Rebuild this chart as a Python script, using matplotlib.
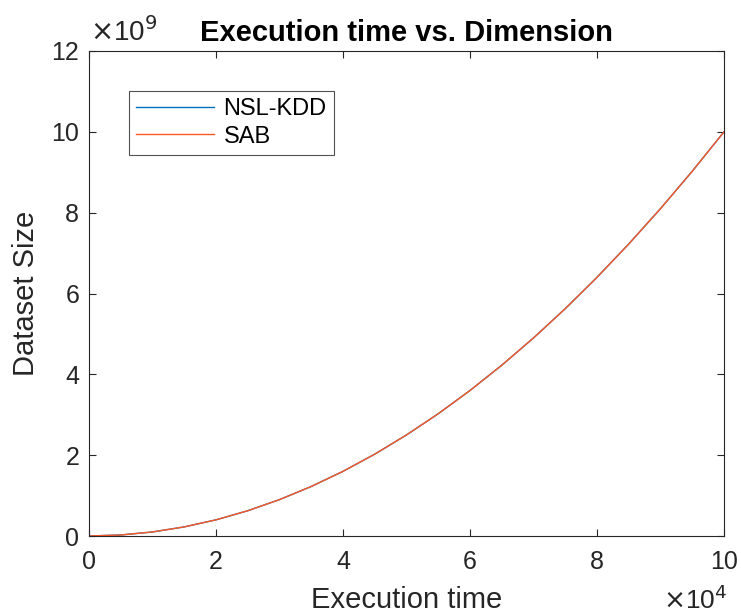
import numpy as np
import matplotlib.pyplot as plt

plt.rcParams['font.family'] = ['Liberation Sans', 'DejaVu Sans']

# values (x in units of 1e4, y in units of 1e9)
exec_time = [0, 0.5, 1.0, 1.5, 2.0, 2.5, 3.0, 3.5, 4.0, 4.5, 5.0,
             5.5, 6.0, 6.5, 7.0, 7.5, 8.0, 8.5, 9.0, 9.5, 10.0]
nsl_kdd = [0, 0.025, 0.10, 0.225, 0.40, 0.625, 0.90, 1.225, 1.60, 2.025, 2.50,
           3.025, 3.60, 4.225, 4.90, 5.625, 6.40, 7.225, 8.10, 9.025, 10.0]
sab = [0, 0.025, 0.10, 0.225, 0.40, 0.625, 0.90, 1.225, 1.60, 2.025, 2.50,
       3.025, 3.60, 4.225, 4.90, 5.625, 6.40, 7.225, 8.10, 9.025, 10.0]
xticks = [0, 2, 4, 6, 8, 10]
yticks = [0, 2, 4, 6, 8, 10, 12]

fig = plt.figure(figsize=(7.41, 6.15), dpi=100)
ax = fig.add_axes([89/741, 1 - 536/615, 635/741, 485/615])

ax.plot(exec_time, nsl_kdd, color='#0072BD', lw=1.0, label='NSL-KDD')
ax.plot(exec_time, sab, color='#FF5722', lw=1.0, label='SAB')

ax.set_xlim(0, 10)
ax.set_ylim(0, 12)
ax.set_xticks(xticks)
ax.set_yticks(yticks)
ax.tick_params(direction='in', top=True, right=True, length=5, width=0.8,
               labelsize=18, colors='#262626')
ax.tick_params(axis='x', pad=10)
ax.tick_params(axis='y', pad=7)
for s in ax.spines.values():
    s.set_color('#262626')
    s.set_linewidth(0.8)

ax.set_xlabel('Execution time', fontsize=21, color='#262626', labelpad=9)
ax.set_ylabel('Dataset Size', fontsize=21, color='#262626', labelpad=8)
ax.set_title('Execution time vs. Dimension', fontsize=21, fontweight='bold', pad=7)

fig.text(90/741, 1 - 41/615, r'$\times$10$^9$', fontsize=20, color='#262626')
fig.text(663/741, 1 - 609/615, r'$\times$10$^4$', fontsize=19, color='#262626')

leg = ax.legend(loc='upper left', bbox_to_anchor=(0.063, 0.918), fontsize=17,
                frameon=True, fancybox=False, handlelength=3.3,
                borderpad=0.3, labelspacing=0.25, handletextpad=0.4,
                borderaxespad=0)
leg.get_frame().set_edgecolor('#262626')
leg.get_frame().set_linewidth(0.8)

plt.savefig('out.png', dpi=100)
